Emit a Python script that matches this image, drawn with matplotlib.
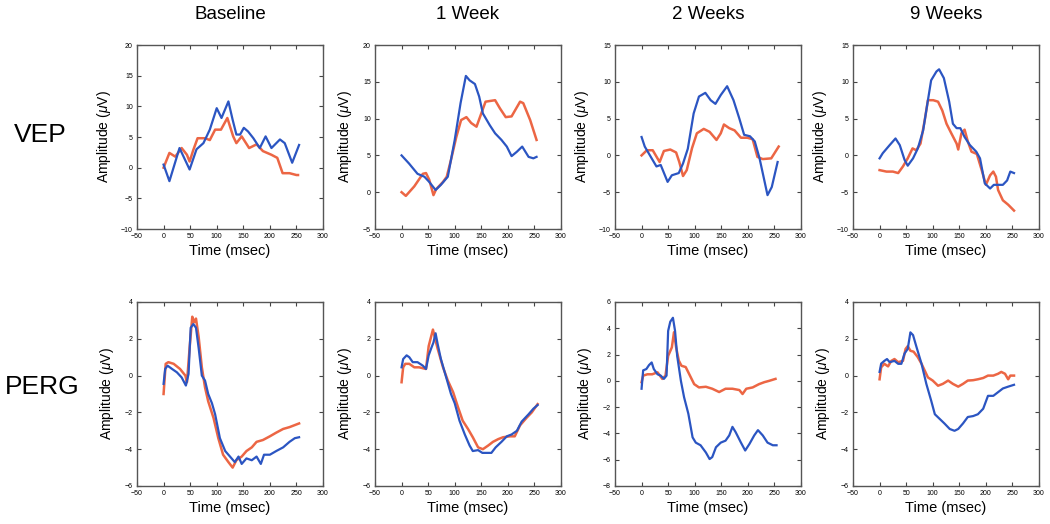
import matplotlib
matplotlib.use("Agg")
import matplotlib.pyplot as plt

plt.rcParams["font.family"] = ["Liberation Sans", "DejaVu Sans"]
plt.rcParams["mathtext.fontset"] = "custom"
plt.rcParams["mathtext.it"] = "Liberation Sans:italic"
plt.rcParams["mathtext.rm"] = "Liberation Sans"

BLUE = "#2b55c2"
RED = "#ea5530"

col_titles = ["Baseline", "1 Week", "2 Weeks", "9 Weeks"]
row_titles = ["VEP", "PERG"]

# ---- VEP ----
vep_base_blue_t = [0, 11, 30, 49, 62, 75, 87, 100, 109, 122, 130, 137, 144, 151, 159, 169, 181, 192, 203, 219, 228, 242, 255]
vep_base_blue_v = [0.5, -2.2, 3.2, -0.3, 3.0, 4.0, 6.2, 9.7, 8.1, 10.8, 7.8, 5.4, 5.4, 6.5, 5.9, 4.8, 3.2, 5.1, 3.2, 4.6, 4.0, 0.8, 3.7]
vep_base_red_t = [0, 11, 22, 34, 44, 49, 56, 64, 78, 87, 97, 108, 120, 131, 137, 147, 161, 175, 187, 203, 214, 224, 237, 250, 253]
vep_base_red_v = [0.0, 2.4, 1.8, 3.2, 2.1, 1.0, 2.9, 4.8, 4.8, 4.5, 6.2, 6.2, 8.1, 5.1, 4.0, 5.1, 3.2, 3.8, 2.7, 2.1, 1.6, -0.9, -0.9, -1.2, -1.2]

vep_1w_blue_t = [0, 14, 30, 43, 52, 64, 74, 87, 100, 111, 121, 128, 138, 146, 153, 166, 176, 188, 198, 207, 217, 227, 239, 248, 254]
vep_1w_blue_v = [5.0, 3.9, 2.5, 2.1, 1.4, 0.3, 1.0, 2.1, 7.1, 12.1, 15.8, 15.2, 14.7, 13.0, 10.7, 9.1, 8.0, 7.1, 6.2, 4.9, 5.5, 6.2, 4.8, 4.6, 4.8]
vep_1w_red_t = [0, 8, 24, 40, 46, 52, 60, 65, 78, 85, 93, 103, 112, 122, 131, 141, 148, 158, 176, 185, 196, 207, 223, 229, 242, 254]
vep_1w_red_v = [0.0, -0.5, 0.8, 2.5, 2.6, 1.7, -0.4, 0.4, 1.4, 2.1, 4.4, 7.5, 9.8, 10.2, 9.4, 8.9, 10.3, 12.3, 12.5, 11.4, 10.2, 10.3, 12.3, 12.1, 9.8, 7.1]

vep_2w_blue_t = [0, 6, 19, 28, 36, 49, 57, 70, 78, 87, 98, 108, 120, 130, 139, 149, 161, 173, 184, 193, 204, 213, 222, 231, 237, 245, 256]
vep_2w_blue_v = [2.5, 1.2, -0.4, -1.5, -1.3, -3.6, -2.7, -2.4, -1.1, 0.9, 5.7, 8.0, 8.5, 7.5, 7.0, 8.2, 9.4, 7.5, 5.0, 2.8, 2.6, 1.9, -0.4, -3.4, -5.4, -4.3, -0.9]
vep_2w_red_t = [0, 10, 21, 34, 42, 54, 65, 71, 78, 85, 95, 104, 117, 128, 141, 149, 155, 165, 175, 187, 199, 209, 218, 228, 244, 258]
vep_2w_red_v = [0.0, 0.7, 0.7, -0.9, 0.6, 0.8, 0.4, -0.9, -2.8, -2.0, 1.0, 3.0, 3.6, 3.2, 2.1, 3.0, 4.2, 3.7, 3.4, 2.4, 2.4, 2.2, -0.2, -0.5, -0.4, 1.2]

vep_9w_blue_t = [0, 6, 19, 30, 38, 47, 53, 63, 72, 82, 89, 97, 107, 112, 121, 131, 138, 145, 152, 160, 170, 182, 189, 198, 208, 215, 225, 232, 240, 246, 253]
vep_9w_blue_v = [-0.4, 0.3, 1.4, 2.3, 1.4, -0.6, -1.4, -0.4, 0.95, 3.4, 6.6, 10.2, 11.4, 11.7, 10.5, 7.3, 4.3, 3.7, 3.7, 2.5, 1.4, 0.5, -0.4, -3.8, -4.5, -4.0, -4.0, -4.0, -3.4, -2.2, -2.4]
vep_9w_red_t = [0, 13, 25, 35, 44, 53, 62, 69, 77, 85, 91, 101, 110, 118, 126, 135, 145, 148, 154, 160, 166, 173, 183, 193, 200, 208, 214, 219, 223, 232, 242, 253]
vep_9w_red_v = [-2.0, -2.2, -2.2, -2.4, -1.5, -0.4, 0.95, 0.7, 1.6, 4.8, 7.5, 7.5, 7.3, 6.1, 4.3, 3.0, 1.6, 0.8, 3.0, 3.5, 1.9, 0.5, 0.2, -2.2, -4.0, -2.7, -2.2, -2.9, -4.7, -6.1, -6.7, -7.5]

# ---- PERG ----
perg_base_blue_t = [0, 3, 7.5, 16, 25, 34, 42, 47, 51, 56, 61, 66, 72, 78, 84, 91, 97, 106, 116, 125, 134, 141, 147, 156, 166, 175, 183, 189, 200, 212, 225, 237, 247, 255]
perg_base_blue_v = [-0.45, 0.36, 0.54, 0.36, 0.18, -0.1, -0.54, 0.09, 2.6, 2.8, 2.6, 1.5, 0.0, -0.27, -1.0, -1.5, -2.1, -3.4, -4.1, -4.4, -4.7, -4.4, -4.8, -4.5, -4.6, -4.4, -4.8, -4.3, -4.3, -4.1, -3.9, -3.6, -3.4, -3.35]
perg_base_red_t = [0, 4, 9, 19, 31, 41, 44, 49, 54, 57.5, 61, 66, 72, 78, 84, 94, 103, 112, 122, 130, 137, 147, 156, 166, 175, 187, 200, 212, 225, 237, 255]
perg_base_red_v = [-1.0, 0.64, 0.73, 0.64, 0.36, 0.0, -0.36, 1.5, 3.2, 2.9, 3.1, 2.1, 0.45, -0.64, -1.4, -2.3, -3.4, -4.3, -4.7, -5.0, -4.6, -4.4, -4.1, -3.9, -3.6, -3.5, -3.3, -3.1, -2.9, -2.8, -2.6]

perg_1w_blue_t = [0, 3, 9.5, 14.5, 21, 30, 40, 46, 51, 56, 60, 64, 68, 74, 84, 93, 100, 109, 119, 128, 134, 144, 152, 160, 169, 177, 188, 198, 207, 217, 226, 239, 248, 256]
perg_1w_blue_v = [0.45, 0.9, 1.1, 1.0, 0.73, 0.73, 0.54, 0.36, 1.1, 1.5, 1.8, 2.3, 1.7, 0.9, -0.1, -1.0, -1.5, -2.45, -3.2, -3.8, -4.1, -4.05, -4.2, -4.2, -4.2, -3.9, -3.6, -3.3, -3.2, -3.0, -2.5, -2.1, -1.8, -1.6]
perg_1w_red_t = [0, 3, 7, 14.5, 24, 33, 46, 51, 59, 64, 68, 78, 87, 97, 106, 115, 125, 134, 144, 153, 163, 172, 182, 191, 204, 213, 223, 235, 245, 256]
perg_1w_red_v = [-0.36, 0.45, 0.64, 0.64, 0.45, 0.45, 0.36, 1.6, 2.5, 1.9, 1.45, 0.45, -0.27, -0.9, -1.7, -2.45, -2.9, -3.35, -3.9, -4.0, -3.8, -3.6, -3.45, -3.35, -3.3, -3.3, -2.7, -2.3, -2.0, -1.55]

perg_2w_blue_t = [0, 3, 9, 14, 19, 23, 30, 36, 42, 47, 50, 54, 59, 63, 67, 74, 80, 88, 96, 102, 111, 121, 128, 133, 140, 149, 158, 165, 171, 177, 187, 195, 203, 212, 219, 228, 237, 247, 254]
perg_2w_blue_v = [-0.6, 0.8, 0.9, 1.2, 1.4, 0.9, 0.5, 0.4, 0.15, 0.4, 3.8, 4.5, 4.8, 3.8, 1.9, 0.0, -1.25, -2.5, -4.3, -4.7, -4.9, -5.45, -5.95, -5.8, -5.05, -4.7, -4.55, -4.15, -3.5, -3.9, -4.7, -5.3, -4.8, -4.15, -3.75, -4.15, -4.7, -4.9, -4.9]
perg_2w_red_t = [0, 3, 11, 20, 30, 39, 45, 50, 57, 61, 65, 70, 75, 83, 91, 99, 108, 121, 133, 146, 158, 171, 184, 190, 197, 209, 221, 231, 240, 252]
perg_2w_red_v = [-0.1, 0.4, 0.5, 0.5, 0.65, 0.15, 0.4, 1.9, 2.55, 3.7, 2.55, 1.55, 1.15, 1.05, 0.4, -0.25, -0.5, -0.45, -0.6, -0.85, -0.6, -0.6, -0.7, -1.0, -0.6, -0.5, -0.25, -0.1, 0.0, 0.15]

perg_9w_blue_t = [0, 3, 9, 14, 19, 28, 35, 41, 47, 53, 58, 63, 69, 79, 88, 97, 104, 113, 122, 132, 141, 148, 157, 166, 176, 185, 195, 204, 214, 223, 232, 242, 253]
perg_9w_blue_v = [0.2, 0.65, 0.8, 0.9, 0.73, 0.8, 0.64, 0.64, 1.2, 1.45, 2.35, 2.2, 1.6, 0.64, -0.45, -1.35, -2.1, -2.35, -2.6, -2.9, -3.0, -2.9, -2.6, -2.25, -2.2, -2.1, -1.8, -1.1, -1.1, -0.9, -0.7, -0.6, -0.5]
perg_9w_red_t = [0, 3, 9, 16, 22, 28, 35, 44, 49, 53, 58, 64, 72, 79, 85, 91, 100, 110, 119, 129, 138, 148, 157, 166, 176, 185, 195, 204, 214, 223, 229, 236, 242, 246, 253]
perg_9w_red_v = [-0.2, 0.45, 0.64, 0.5, 0.8, 0.9, 0.73, 0.8, 1.45, 1.6, 1.35, 1.3, 1.0, 0.64, 0.27, -0.1, -0.27, -0.55, -0.45, -0.27, -0.45, -0.6, -0.45, -0.27, -0.25, -0.2, -0.13, 0.0, 0.0, 0.1, 0.2, 0.1, -0.2, 0.0, 0.0]

panels = [
    [(vep_base_blue_t, vep_base_blue_v, vep_base_red_t, vep_base_red_v, (-10, 20), 5),
     (vep_1w_blue_t, vep_1w_blue_v, vep_1w_red_t, vep_1w_red_v, (-5, 20), 5),
     (vep_2w_blue_t, vep_2w_blue_v, vep_2w_red_t, vep_2w_red_v, (-10, 15), 5),
     (vep_9w_blue_t, vep_9w_blue_v, vep_9w_red_t, vep_9w_red_v, (-10, 15), 5)],
    [(perg_base_blue_t, perg_base_blue_v, perg_base_red_t, perg_base_red_v, (-6, 4), 2),
     (perg_1w_blue_t, perg_1w_blue_v, perg_1w_red_t, perg_1w_red_v, (-6, 4), 2),
     (perg_2w_blue_t, perg_2w_blue_v, perg_2w_red_t, perg_2w_red_v, (-8, 6), 2),
     (perg_9w_blue_t, perg_9w_blue_v, perg_9w_red_t, perg_9w_red_v, (-6, 4), 2)],
]

W, H = 1050, 524
fig = plt.figure(figsize=(W / 100, H / 100), dpi=100)

col_left = [137, 375, 615, 853]
ax_w = 186
row_top = [45, 302]
ax_h = 184

for r, row in enumerate(panels):
    for c, (bt, bv, rt, rv, ylim, ystep) in enumerate(row):
        ax = fig.add_axes([col_left[c] / W, 1 - (row_top[r] + ax_h) / H, ax_w / W, ax_h / H])
        # red trace is a bit fuzzier in the original, so slightly wider
        ax.plot(rt, rv, color=RED, lw=1.8, alpha=0.9)
        ax.plot(bt, bv, color=BLUE, lw=1.6)
        ax.set_xlim(-50, 300)
        ax.set_ylim(*ylim)
        ax.set_xticks(range(-50, 301, 50))
        ax.set_yticks(range(ylim[0], ylim[1] + 1, ystep))
        ax.tick_params(direction="in", top=True, right=True, length=3, width=0.8,
                       labelsize=5, color="#444444", pad=3)
        for s in ax.spines.values():
            s.set_color("#555555")
            s.set_linewidth(1.0)
        ax.set_xlabel("Time (msec)", fontsize=10.5, labelpad=3)
        ax.set_ylabel("Amplitude ($\\mu$V)", fontsize=10, labelpad=6)
        if r == 0:
            ax.text(0.5, 1 + 31 / ax_h, col_titles[c], transform=ax.transAxes,
                    ha="center", va="center", fontsize=13.5)

fig.text(40 / W, 1 - 135 / H, row_titles[0], ha="center", va="center", fontsize=19)
fig.text(42 / W, 1 - 387 / H, row_titles[1], ha="center", va="center", fontsize=19)

fig.savefig("out.png", dpi=100)
